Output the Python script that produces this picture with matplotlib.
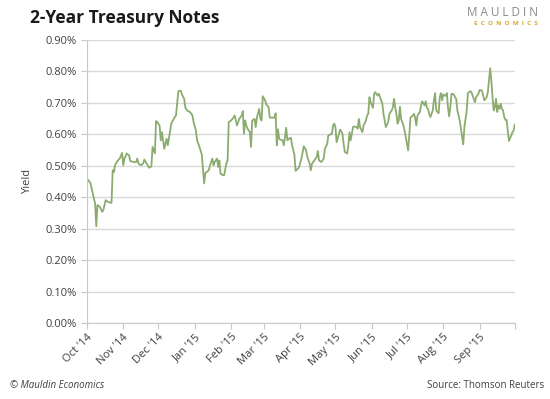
import pandas as pd
import matplotlib
matplotlib.use('Agg')
import matplotlib.pyplot as plt
from matplotlib.ticker import FuncFormatter

# 2-year treasury yield (percent)
dates = [
    '2014-10-01', '2014-10-04', '2014-10-06', '2014-10-08', '2014-10-09', '2014-10-10', '2014-10-12',
    '2014-10-14', '2014-10-15', '2014-10-17', '2014-10-19', '2014-10-22', '2014-10-23', '2014-10-24',
    '2014-10-25', '2014-10-27', '2014-10-29', '2014-10-31', '2014-11-01', '2014-11-02', '2014-11-04',
    '2014-11-06', '2014-11-07', '2014-11-10', '2014-11-12', '2014-11-13', '2014-11-14', '2014-11-16',
    '2014-11-18', '2014-11-19', '2014-11-21', '2014-11-23', '2014-11-25', '2014-11-26', '2014-11-28',
    '2014-11-29', '2014-11-30', '2014-12-02', '2014-12-03', '2014-12-04', '2014-12-06', '2014-12-07',
    '2014-12-08', '2014-12-09', '2014-12-11', '2014-12-12', '2014-12-14', '2014-12-16', '2014-12-17',
    '2014-12-18', '2014-12-20', '2014-12-21', '2014-12-23', '2014-12-24', '2014-12-26', '2014-12-28',
    '2014-12-30', '2014-12-31', '2015-01-02', '2015-01-03', '2015-01-05', '2015-01-07', '2015-01-09',
    '2015-01-10', '2015-01-11', '2015-01-13', '2015-01-14', '2015-01-16', '2015-01-17', '2015-01-18',
    '2015-01-20', '2015-01-21', '2015-01-22', '2015-01-23', '2015-01-25', '2015-01-26', '2015-01-28',
    '2015-01-29', '2015-01-30', '2015-02-01', '2015-02-03', '2015-02-04', '2015-02-05', '2015-02-06',
    '2015-02-08', '2015-02-10', '2015-02-11', '2015-02-12', '2015-02-13', '2015-02-14', '2015-02-15',
    '2015-02-17', '2015-02-18', '2015-02-19', '2015-02-21', '2015-02-22', '2015-02-23', '2015-02-25',
    '2015-02-26', '2015-02-27', '2015-02-28', '2015-03-02', '2015-03-03', '2015-03-05', '2015-03-06',
    '2015-03-08', '2015-03-10', '2015-03-11', '2015-03-12', '2015-03-13', '2015-03-14', '2015-03-15',
    '2015-03-17', '2015-03-18', '2015-03-20', '2015-03-21', '2015-03-23', '2015-03-24', '2015-03-25',
    '2015-03-27', '2015-03-28', '2015-03-30', '2015-03-31',
    '2015-04-02', '2015-04-04', '2015-04-06', '2015-04-07', '2015-04-09', '2015-04-10', '2015-04-11',
    '2015-04-13', '2015-04-15', '2015-04-16', '2015-04-17', '2015-04-19', '2015-04-21', '2015-04-22',
    '2015-04-24', '2015-04-25', '2015-04-27', '2015-04-28', '2015-04-29', '2015-04-30', '2015-05-01',
    '2015-05-02', '2015-05-04', '2015-05-05', '2015-05-07', '2015-05-08', '2015-05-09', '2015-05-11',
    '2015-05-12', '2015-05-13', '2015-05-14', '2015-05-16', '2015-05-17', '2015-05-19', '2015-05-20',
    '2015-05-21', '2015-05-22', '2015-05-24', '2015-05-25', '2015-05-27', '2015-05-28', '2015-05-29',
    '2015-05-30', '2015-05-31', '2015-06-02', '2015-06-03', '2015-06-04', '2015-06-06', '2015-06-07',
    '2015-06-08', '2015-06-10', '2015-06-11', '2015-06-13', '2015-06-15', '2015-06-16', '2015-06-18',
    '2015-06-19', '2015-06-20', '2015-06-21', '2015-06-22', '2015-06-23', '2015-06-24', '2015-06-25',
    '2015-06-26', '2015-06-28', '2015-06-29', '2015-06-30', '2015-07-02', '2015-07-03', '2015-07-04',
    '2015-07-06', '2015-07-07', '2015-07-08', '2015-07-09', '2015-07-10', '2015-07-12', '2015-07-13',
    '2015-07-14', '2015-07-16', '2015-07-17', '2015-07-18', '2015-07-19', '2015-07-20', '2015-07-21',
    '2015-07-23', '2015-07-24', '2015-07-25', '2015-07-26', '2015-07-27', '2015-07-28', '2015-07-29',
    '2015-07-30', '2015-07-31', '2015-08-01', '2015-08-02', '2015-08-03', '2015-08-04', '2015-08-05',
    '2015-08-06', '2015-08-07', '2015-08-08', '2015-08-10', '2015-08-11', '2015-08-12', '2015-08-13',
    '2015-08-14', '2015-08-15', '2015-08-16', '2015-08-17', '2015-08-18', '2015-08-19', '2015-08-21',
    '2015-08-22', '2015-08-24', '2015-08-25', '2015-08-27', '2015-08-28', '2015-08-29', '2015-08-31',
    '2015-09-01', '2015-09-03', '2015-09-04', '2015-09-05', '2015-09-07', '2015-09-08', '2015-09-09',
    '2015-09-10', '2015-09-11', '2015-09-12', '2015-09-13', '2015-09-14', '2015-09-15', '2015-09-16',
    '2015-09-17', '2015-09-18', '2015-09-19', '2015-09-20', '2015-09-21', '2015-09-22', '2015-09-23',
    '2015-09-24', '2015-09-25', '2015-09-26', '2015-09-28', '2015-09-29', '2015-09-30', '2015-10-01',
]
yields = [
    0.460, 0.445, 0.412, 0.380, 0.308, 0.375, 0.370,
    0.354, 0.359, 0.391, 0.385, 0.382, 0.486, 0.480,
    0.502, 0.515, 0.523, 0.541, 0.502, 0.523, 0.539,
    0.533, 0.515, 0.512, 0.512, 0.523, 0.507, 0.502,
    0.507, 0.520, 0.507, 0.494, 0.498, 0.560, 0.539,
    0.642, 0.639, 0.628, 0.581, 0.607, 0.554, 0.570,
    0.586, 0.565, 0.612, 0.634, 0.649, 0.660, 0.697,
    0.737, 0.739, 0.727, 0.713, 0.684, 0.674, 0.671,
    0.660, 0.639, 0.612, 0.581, 0.560, 0.536, 0.444,
    0.477, 0.480, 0.486, 0.502, 0.523, 0.502, 0.512,
    0.523, 0.496, 0.517, 0.475, 0.470, 0.470, 0.507,
    0.517, 0.639, 0.644, 0.653, 0.660, 0.646, 0.628,
    0.649, 0.660, 0.674, 0.602, 0.644, 0.628, 0.618,
    0.607, 0.560, 0.644, 0.649, 0.623, 0.653, 0.681,
    0.649, 0.644, 0.721, 0.708, 0.695, 0.686, 0.653,
    0.653, 0.653, 0.667, 0.565, 0.616, 0.586, 0.583,
    0.581, 0.565, 0.621, 0.581, 0.588, 0.589, 0.565,
    0.536, 0.484, 0.491, 0.496,
    0.523, 0.562, 0.549, 0.528, 0.507, 0.486, 0.507,
    0.517, 0.528, 0.547, 0.517, 0.512, 0.523, 0.554,
    0.570, 0.597, 0.600, 0.602, 0.628, 0.634, 0.623,
    0.575, 0.602, 0.615, 0.602, 0.570, 0.544, 0.539,
    0.565, 0.607, 0.581, 0.623, 0.625, 0.623, 0.618,
    0.649, 0.623, 0.607, 0.628, 0.644, 0.660, 0.665,
    0.718, 0.702, 0.684, 0.729, 0.734, 0.723, 0.729,
    0.718, 0.697, 0.665, 0.623, 0.639, 0.665, 0.676,
    0.686, 0.713, 0.686, 0.665, 0.634, 0.644, 0.688,
    0.649, 0.628, 0.612, 0.591, 0.549, 0.597, 0.653,
    0.660, 0.665, 0.653, 0.628, 0.660, 0.671, 0.692,
    0.705, 0.692, 0.705, 0.684, 0.681, 0.665, 0.655,
    0.676, 0.708, 0.731, 0.676, 0.671, 0.667, 0.718,
    0.731, 0.708, 0.727, 0.723, 0.723, 0.731, 0.686,
    0.657, 0.686, 0.729, 0.727, 0.718, 0.713, 0.676,
    0.660, 0.644, 0.618, 0.593, 0.568, 0.623, 0.676,
    0.731, 0.737, 0.734, 0.713, 0.702, 0.718, 0.729,
    0.741, 0.739, 0.723, 0.708, 0.718, 0.734, 0.771,
    0.810, 0.771, 0.718, 0.676, 0.686, 0.713, 0.671,
    0.692, 0.681, 0.697, 0.681, 0.676, 0.655, 0.646,
    0.646, 0.612, 0.579, 0.597, 0.607, 0.612, 0.631,
]
month_ticks = pd.date_range('2014-10-01', '2015-10-01', freq='MS')
month_labels = ["Oct '14", "Nov '14", "Dec '14", "Jan '15", "Feb '15", "Mar '15",
                "Apr '15", "May '15", "Jun '15", "Jul '15", "Aug '15", "Sep '15", ""]

plt.rcParams['font.family'] = ['Open Sans', 'DejaVu Sans']
txt = '#404040'
grid = '#d9d9d9'

fig = plt.figure(figsize=(5.5, 3.99), dpi=100)
ax = fig.add_axes([0.158, 0.19, 0.778, 0.71])

ax.plot(pd.to_datetime(dates), yields, color='#8cab6f', linewidth=1.3)

ax.set_xlim(month_ticks[0], month_ticks[-1])
ax.set_ylim(0, 0.9)
ax.set_yticks([i / 10 for i in range(10)])
ax.yaxis.set_major_formatter(FuncFormatter(lambda v, p: '{:.2f}%'.format(v)))
ax.set_xticks(month_ticks)
ax.set_xticklabels(month_labels, rotation=45, ha='right', rotation_mode='anchor')

ax.grid(axis='y', color=grid, linewidth=1)
ax.set_axisbelow(True)
for s in ['top', 'right']:
    ax.spines[s].set_visible(False)
for s in ['left', 'bottom']:
    ax.spines[s].set_color('#c8c8c8')
ax.tick_params(axis='both', colors='#c8c8c8', labelcolor=txt, labelsize=8, length=4)
ax.tick_params(axis='x', pad=2)
ax.set_ylabel('Yield', fontsize=8, color=txt, labelpad=9)

fig.text(0.055, 0.955, '2-Year Treasury Notes', fontsize=12.5, fontweight='bold',
         color='#1a1a1a', va='center')
fig.text(0.978, 0.968, 'M A U L D I N', fontsize=8.5, color='#8a8a8a', ha='right', va='center')
fig.text(0.978, 0.94, 'E  C  O  N  O  M  I  C  S', fontsize=4.5, color='#d4a62a', ha='right',
         va='center', fontweight='bold')
fig.text(0.018, 0.035, '© Mauldin Economics', fontsize=7, style='italic', color=txt, va='center')
fig.text(0.99, 0.035, 'Source: Thomson Reuters', fontsize=7, color=txt, ha='right', va='center')

fig.savefig('out.png', dpi=100)
